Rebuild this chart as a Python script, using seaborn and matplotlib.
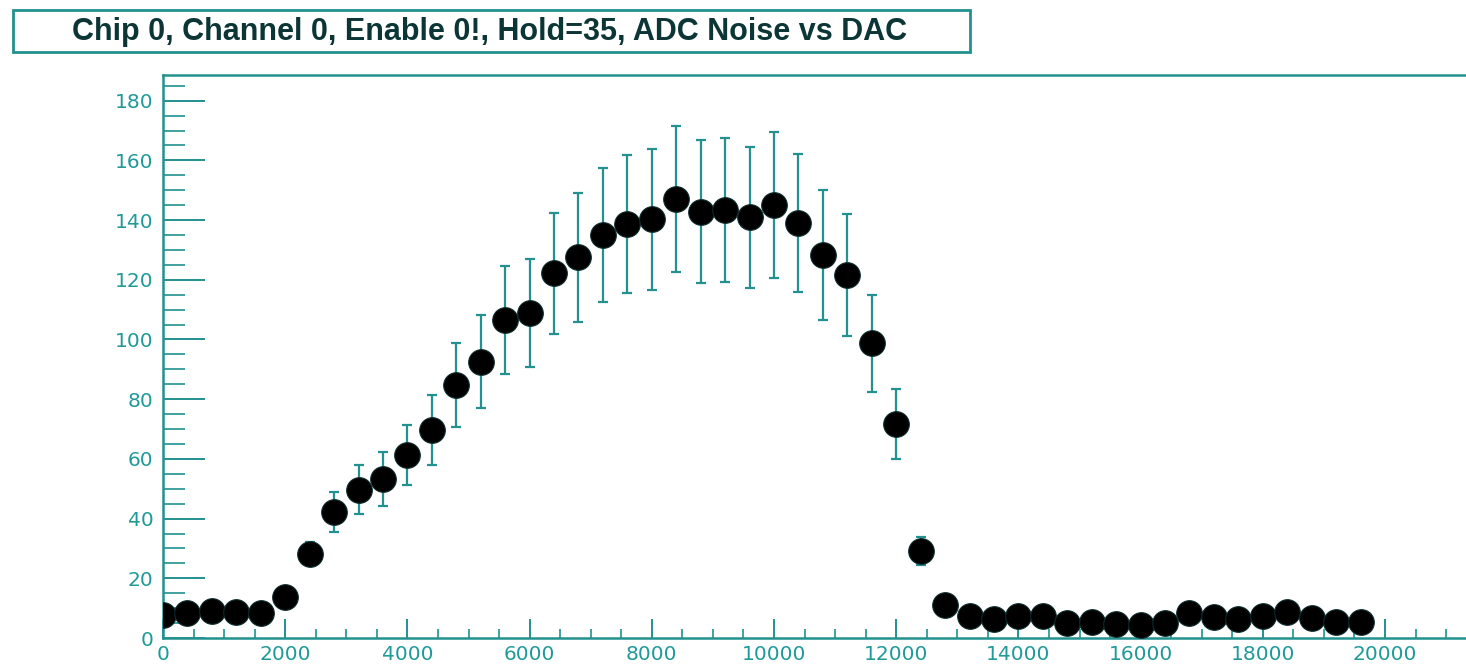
import matplotlib
matplotlib.use("Agg")
import matplotlib.pyplot as plt
import seaborn as sns
import numpy as np
import pandas as pd
from matplotlib.patches import Rectangle
from matplotlib.ticker import MultipleLocator

# ---- data ----
dac = [0, 400, 800, 1200, 1600, 2000, 2400, 2800, 3200, 3600,
       4000, 4400, 4800, 5200, 5600, 6000, 6400, 6800, 7200, 7600,
       8000, 8400, 8800, 9200, 9600, 10000, 10400, 10800, 11200, 11600,
       12000, 12400, 12800, 13200, 13600, 14000, 14400, 14800, 15200, 15600,
       16000, 16400, 16800, 17200, 17600, 18000, 18400, 18800, 19200, 19600]
noise = [7.8, 8.5, 8.9, 8.6, 8.3, 13.6, 28.3, 42.3, 49.6, 53.2,
         61.3, 69.7, 84.8, 92.6, 106.5, 108.8, 122.2, 127.5, 135.0, 138.7,
         140.2, 147.0, 142.8, 143.4, 140.9, 145.0, 139.0, 128.3, 121.6, 98.7,
         71.6, 29.2, 11.1, 7.4, 6.3, 7.4, 7.4, 5.1, 5.5, 4.6,
         4.4, 4.9, 8.3, 7.1, 6.3, 7.4, 8.8, 6.6, 5.5, 5.5]
noise_err = [1.5, 1.5, 1.5, 1.5, 1.5, 2.5, 4.0, 6.7, 8.2, 9.0,
             10.0, 11.7, 14.1, 15.6, 18.0, 18.0, 20.3, 21.5, 22.5, 23.0,
             23.5, 24.5, 24.0, 24.0, 23.7, 24.4, 23.0, 21.7, 20.5, 16.2,
             11.7, 4.7, 2.0, 1.5, 1.5, 1.5, 1.5, 1.5, 1.5, 1.5,
             1.5, 1.5, 1.5, 1.5, 1.5, 1.5, 1.5, 1.5, 1.5, 1.5]
title = "Chip 0, Channel 0, Enable 0!, Hold=35, ADC Noise vs DAC"
y_ticks = [0, 20, 40, 60, 80, 100, 120, 140, 160, 180]
x_ticks = [0, 2000, 4000, 6000, 8000, 10000, 12000, 14000, 16000, 18000, 20000]

df = pd.DataFrame({"dac": dac, "noise": noise, "err": noise_err})

TEAL = "#22918f"
TEXT_TEAL = "#1f9a99"

sns.set_style("white")
plt.rcParams["font.family"] = ["Liberation Sans", "DejaVu Sans"]

W, H = 1466, 667
fig = plt.figure(figsize=(W / 100, H / 100), dpi=100)

x0, x1 = 0, 21500
y0, y1 = 0, 188.6
left_px, bottom_px, top_px = 163, 638, 75
px_per_unit = 61.1 / 1000
ax_w_px = (x1 - x0) * px_per_unit
ax = fig.add_axes([left_px / W, (H - bottom_px) / H, ax_w_px / W, (bottom_px - top_px) / H])

ax.errorbar(df["dac"], df["noise"], yerr=df["err"], fmt="none",
            ecolor=TEAL, elinewidth=1.6, capsize=3.6, capthick=1.6, zorder=2)
sns.scatterplot(data=df, x="dac", y="noise", ax=ax, color="black", s=340,
                edgecolor="#0b2a2a", linewidth=0.8, zorder=3, legend=False)

ax.set_xlim(x0, x1)
ax.set_ylim(y0, y1)
ax.set_xticks(x_ticks)
ax.set_yticks(y_ticks)
ax.set_xticklabels([str(v) for v in x_ticks], fontfamily="DejaVu Sans")
ax.set_yticklabels([str(v) for v in y_ticks], fontfamily="DejaVu Sans")
ax.xaxis.set_minor_locator(MultipleLocator(500))
ax.yaxis.set_minor_locator(MultipleLocator(5))
ax.set_xlabel("")
ax.set_ylabel("")

ax.tick_params(axis="both", which="both", bottom=True, left=True, top=False, right=False)
ax.tick_params(axis="x", which="major", direction="in", length=14, width=1.4,
               color=TEAL, labelcolor=TEXT_TEAL, labelsize=14.5, pad=5)
ax.tick_params(axis="x", which="minor", direction="in", length=6.5, width=1.2, color=TEAL)
ax.tick_params(axis="y", which="major", direction="in", length=30, width=1.4,
               color=TEAL, labelcolor=TEXT_TEAL, labelsize=14.5, pad=7)
ax.tick_params(axis="y", which="minor", direction="in", length=16, width=1.2, color=TEAL)

for side in ["left", "bottom", "top"]:
    ax.spines[side].set_visible(True)
    ax.spines[side].set_color(TEAL)
    ax.spines[side].set_linewidth(1.8)
ax.spines["right"].set_visible(False)
ax.grid(False)

# title box
fig.patches.append(Rectangle((13 / W, 1 - 52 / H), (970 - 13) / W, (52 - 10) / H,
                             transform=fig.transFigure, facecolor="white",
                             edgecolor=TEAL, linewidth=2.0, zorder=5))
fig.text(490 / W, 1 - 32 / H, title, ha="center", va="center",
         fontsize=22, fontweight="bold", color="#0c3535", zorder=6)

fig.savefig("out.png", dpi=100)
